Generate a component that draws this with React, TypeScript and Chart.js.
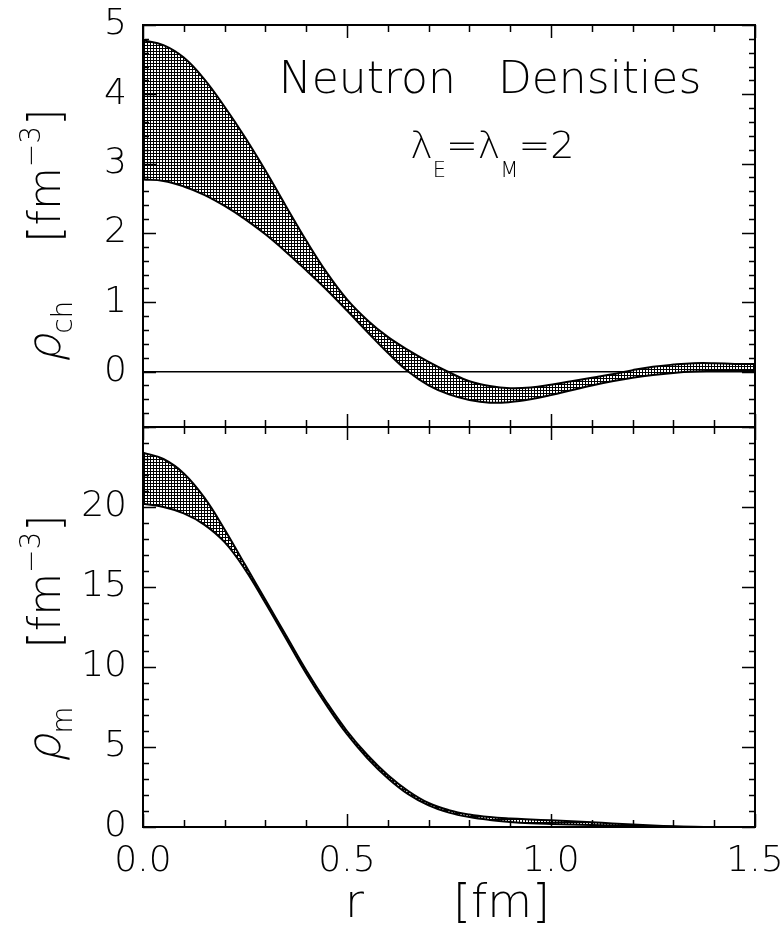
import React, { useEffect, useRef } from "react";
import { Chart, registerables } from "chart.js";

Chart.register(...registerables);

// ---------------- data ----------------
const R = [
  0, 0.05, 0.1, 0.15, 0.2, 0.25, 0.3, 0.35, 0.4, 0.45, 0.5, 0.55, 0.6, 0.65, 0.7, 0.75,
  0.8, 0.85, 0.9, 0.95, 1.0, 1.05, 1.1, 1.15, 1.2, 1.25, 1.3, 1.35, 1.4, 1.45, 1.5,
];

// charge density band (top panel)
const RHO_CH_UPPER = [
  4.78, 4.71, 4.53, 4.22, 3.82, 3.38, 2.9, 2.39, 1.89, 1.43, 1.04, 0.74, 0.5, 0.31, 0.14, -0.01,
  -0.14, -0.21, -0.24, -0.23, -0.19, -0.14, -0.09, -0.04, 0.02, 0.07, 0.1, 0.12, 0.12, 0.11, 0.11,
];
const RHO_CH_LOWER = [
  2.77, 2.75, 2.67, 2.55, 2.39, 2.2, 1.98, 1.73, 1.46, 1.18, 0.88, 0.57, 0.27, 0.0, -0.2, -0.33,
  -0.41, -0.45, -0.44, -0.4, -0.34, -0.27, -0.2, -0.14, -0.09, -0.05, -0.02, 0.0, 0.01, 0.02, 0.02,
];

// matter density band (bottom panel)
const RHO_M_UPPER = [
  23.4, 23.0, 22.1, 20.6, 18.6, 16.4, 14.2, 12.0, 9.8, 7.8, 6.0, 4.5, 3.25, 2.25, 1.5, 1.05,
  0.78, 0.62, 0.53, 0.47, 0.42, 0.36, 0.3, 0.22, 0.15, 0.09, 0.04, 0.01, 0, 0, 0,
];
const RHO_M_LOWER = [
  20.2, 20.0, 19.6, 18.9, 17.8, 16.1, 14.0, 11.8, 9.6, 7.6, 5.8, 4.3, 3.05, 2.05, 1.35, 0.9,
  0.62, 0.44, 0.32, 0.24, 0.19, 0.15, 0.12, 0.09, 0.06, 0.04, 0.02, 0.0, 0, 0, 0,
];

const X_TICKS = [0, 0.5, 1.0, 1.5];
const X_TICK_LABELS = ["0.0", "0.5", "1.0", "1.5"];
const CH_Y_TICKS = [0, 1, 2, 3, 4, 5];
const M_Y_TICKS = [0, 5, 10, 15, 20];

const TITLE = "Neutron   Densities";

// ---------------- style ----------------
const FAMILY = '"DejaVu Sans", "Liberation Sans", sans-serif';
const WEIGHT = 200;
const font = (size: number) => `${WEIGHT} ${size}px ${FAMILY}`;

function makePattern(): CanvasPattern | string {
  const c = document.createElement("canvas");
  c.width = 3;
  c.height = 3;
  const g = c.getContext("2d");
  if (!g) return "#777";
  g.fillStyle = "#fff";
  g.fillRect(0, 0, 3, 3);
  g.fillStyle = "#000";
  g.fillRect(0, 0, 3, 1);
  g.fillRect(0, 0, 1, 3);
  return g.createPattern(c, "repeat") || "#777";
}

type Seg = { t: string; size: number; dy?: number; skew?: boolean; gap?: number };

function drawRich(ctx: CanvasRenderingContext2D, segs: Seg[], x: number, y: number) {
  let cx = x;
  for (const s of segs) {
    if (s.gap) cx += s.gap;
    ctx.font = font(s.size);
    if (s.skew) {
      ctx.save();
      ctx.translate(cx, y + (s.dy || 0));
      ctx.transform(1, 0, -0.22, 1, 0, 0);
      ctx.fillText(s.t, 0, 0);
      ctx.restore();
    } else {
      ctx.fillText(s.t, cx, y + (s.dy || 0));
    }
    cx += ctx.measureText(s.t).width;
  }
}

const framePlugin = {
  id: "frame",
  afterDraw(chart: any, _args: any, opts: any) {
    const { ctx, chartArea: a, scales } = chart;
    const xs = scales.x;
    const ys = scales.y;
    ctx.save();
    ctx.strokeStyle = "#000";
    ctx.lineWidth = 1.5;
    ctx.beginPath();
    const isMajor = (v: number, m: number) => Math.abs(v / m - Math.round(v / m)) < 1e-6;
    const ny = Math.round((ys.max - ys.min) / opts.yMinor);
    for (let i = 0; i <= ny; i++) {
      const v = ys.min + i * opts.yMinor;
      const p = Math.round(ys.getPixelForValue(v)) + 0.5;
      const len = isMajor(v, opts.yMajor) ? 13 : 6;
      ctx.moveTo(a.left, p);
      ctx.lineTo(a.left + len, p);
      ctx.moveTo(a.right, p);
      ctx.lineTo(a.right - len, p);
    }
    const nx = Math.round((xs.max - xs.min) / opts.xMinor);
    for (let i = 0; i <= nx; i++) {
      const v = xs.min + i * opts.xMinor;
      const p = Math.round(xs.getPixelForValue(v)) + 0.5;
      const len = isMajor(v, opts.xMajor) ? 13 : 7;
      ctx.moveTo(p, a.top);
      ctx.lineTo(p, a.top + len);
      ctx.moveTo(p, a.bottom);
      ctx.lineTo(p, a.bottom - len);
    }
    ctx.stroke();
    ctx.lineWidth = 2;
    ctx.strokeRect(a.left, a.top, a.right - a.left, a.bottom - a.top);
    ctx.restore();
  },
};

const textPlugin = {
  id: "texts",
  afterDraw(chart: any, _args: any, opts: any) {
    const { ctx, chartArea: a, scales } = chart;
    ctx.save();
    ctx.fillStyle = "#000";
    ctx.textBaseline = "alphabetic";
    ctx.textAlign = "left";
    ctx.save();
    ctx.translate(60, a.bottom - 64);
    ctx.rotate(-Math.PI / 2);
    drawRich(
      ctx,
      [
        { t: "ρ", size: 46, skew: true },
        { t: opts.sub, size: 28, dy: 12 },
        { t: "[fm", size: 44, gap: 58 },
        { t: "−3", size: 28, dy: -20 },
        { t: "]", size: 44 },
      ],
      0,
      0
    );
    ctx.restore();
    if (opts.top) {
      ctx.font = font(44);
      ctx.fillText(TITLE, scales.x.getPixelForValue(0.333), scales.y.getPixelForValue(4.02));
      drawRich(
        ctx,
        [
          { t: "λ", size: 38 },
          { t: "E", size: 21, dy: 19 },
          { t: "=λ", size: 38 },
          { t: "M", size: 21, dy: 19 },
          { t: "=2", size: 38 },
        ],
        scales.x.getPixelForValue(0.655),
        scales.y.getPixelForValue(3.08)
      );
    } else {
      ctx.font = font(46);
      ctx.fillText("r", a.left + 202, a.bottom + 90);
      ctx.fillText("[fm]", a.left + 310, a.bottom + 90);
    }
    ctx.restore();
  },
};

function band(upper: number[], lower: number[], pattern: CanvasPattern | string) {
  return [
    {
      data: R.map((r, i) => ({ x: r, y: lower[i] })),
      borderColor: "#000",
      borderWidth: 2,
      pointRadius: 0,
      fill: false,
      tension: 0.4,
    },
    {
      data: R.map((r, i) => ({ x: r, y: upper[i] })),
      borderColor: "#000",
      borderWidth: 2,
      pointRadius: 0,
      fill: "-1",
      backgroundColor: pattern,
      tension: 0.4,
    },
  ];
}

export default function App() {
  const topRef = useRef<HTMLCanvasElement | null>(null);
  const botRef = useRef<HTMLCanvasElement | null>(null);

  useEffect(() => {
    if (!topRef.current || !botRef.current) return;
    const pattern = makePattern();
    const tickFont = { family: FAMILY, size: 36, weight: WEIGHT as any };

    const top = new Chart(topRef.current, {
      type: "line",
      data: { datasets: band(RHO_CH_UPPER, RHO_CH_LOWER, pattern) as any },
      options: {
        animation: false,
        responsive: false,
        devicePixelRatio: 1,
        events: [],
        layout: { padding: { top: 25, right: 27, bottom: 13, left: 0 } },
        plugins: {
          legend: { display: false },
          tooltip: { enabled: false },
          frame: { yMinor: 0.2, yMajor: 1, xMinor: 0.1, xMajor: 0.5 },
          texts: { sub: "ch", top: true },
        } as any,
        scales: {
          x: { type: "linear", min: 0, max: 1.5, display: false },
          y: {
            type: "linear",
            min: -0.8,
            max: 5,
            afterBuildTicks: (s: any) => {
              s.ticks = CH_Y_TICKS.map((v) => ({ value: v }));
            },
            afterFit: (s: any) => {
              s.width = 143;
              s.paddingTop = 0;
              s.paddingBottom = 0;
            },
            border: { display: false },
            grid: {
              drawTicks: false,
              lineWidth: 1.5,
              color: (c: any) => (c.tick && c.tick.value === 0 ? "#000" : "rgba(0,0,0,0)"),
            },
            ticks: {
              padding: 16,
              color: "#000",
              font: tickFont,
              callback: (v: any) => String(v),
            },
          },
        },
      },
      plugins: [framePlugin, textPlugin],
    });

    const bot = new Chart(botRef.current, {
      type: "line",
      data: { datasets: band(RHO_M_UPPER, RHO_M_LOWER, pattern) as any },
      options: {
        animation: false,
        responsive: false,
        devicePixelRatio: 1,
        events: [],
        layout: { padding: { top: 7, right: 27, bottom: 0, left: 0 } },
        plugins: {
          legend: { display: false },
          tooltip: { enabled: false },
          frame: { yMinor: 1, yMajor: 5, xMinor: 0.1, xMajor: 0.5 },
          texts: { sub: "m", top: false },
        } as any,
        scales: {
          x: {
            type: "linear",
            min: 0,
            max: 1.5,
            afterBuildTicks: (s: any) => {
              s.ticks = X_TICKS.map((v) => ({ value: v }));
            },
            afterFit: (s: any) => {
              s.height = 99;
              s.paddingLeft = 0;
              s.paddingRight = 0;
            },
            border: { display: false },
            grid: { display: false, drawTicks: false },
            ticks: {
              padding: 13,
              color: "#000",
              font: tickFont,
              maxRotation: 0,
              autoSkip: false,
              callback: (_v: any, i: number) => X_TICK_LABELS[i],
            },
          },
          y: {
            type: "linear",
            min: 0,
            max: 25,
            afterBuildTicks: (s: any) => {
              s.ticks = M_Y_TICKS.map((v) => ({ value: v }));
            },
            afterFit: (s: any) => {
              s.width = 143;
              s.paddingTop = 0;
              s.paddingBottom = 0;
            },
            border: { display: false },
            grid: { display: false, drawTicks: false },
            ticks: {
              padding: 16,
              color: "#000",
              font: tickFont,
              callback: (v: any) => String(v),
            },
          },
        },
      },
      plugins: [framePlugin, textPlugin],
    });

    return () => {
      top.destroy();
      bot.destroy();
    };
  }, []);

  return (
    <div
      style={{
        position: "absolute",
        left: 0,
        top: 0,
        width: 782,
        height: 926,
        background: "#fff",
        overflow: "hidden",
      }}
    >
      <canvas
        ref={botRef}
        width={782}
        height={506}
        style={{ position: "absolute", left: 0, top: 420, width: 782, height: 506 }}
      />
      <canvas
        ref={topRef}
        width={782}
        height={440}
        style={{ position: "absolute", left: 0, top: 0, width: 782, height: 440 }}
      />
    </div>
  );
}
